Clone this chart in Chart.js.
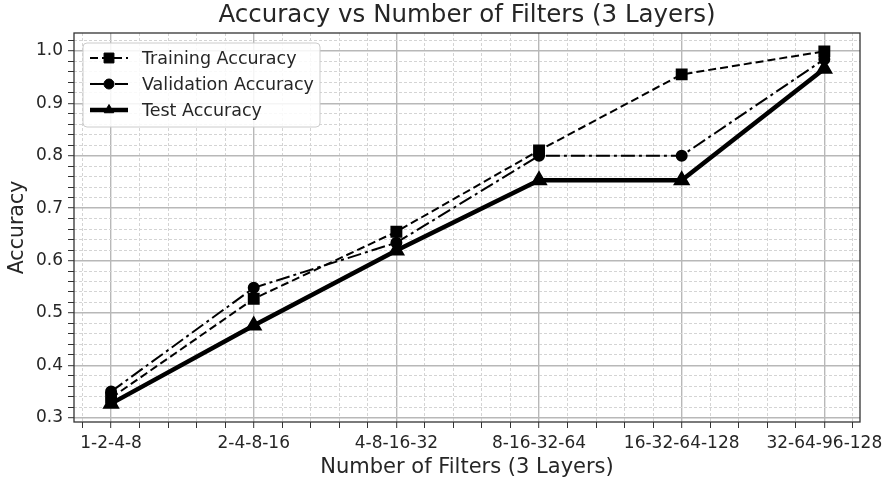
<!DOCTYPE html>
<html>
<head>
<meta charset="utf-8">
<script src="https://cdn.jsdelivr.net/npm/chart.js@4.4.1/dist/chart.umd.min.js"></script>
<style>
  html, body { margin: 0; padding: 0; background: #fff; }
  #wrap { width: 889px; height: 483px; position: relative; }
</style>
</head>
<body>
<div id="wrap"><canvas id="accChart"></canvas></div>
<script>
// chart data
const categories = ['1-2-4-8', '2-4-8-16', '4-8-16-32', '8-16-32-64', '16-32-64-128', '32-64-96-128'];
const trainingAcc = [0.338, 0.527, 0.655, 0.810, 0.955, 0.999];
const validationAcc = [0.350, 0.548, 0.634, 0.800, 0.800, 0.984];
const testAcc = [0.327, 0.476, 0.619, 0.753, 0.753, 0.966];
const yTicks = [0.3, 0.4, 0.5, 0.6, 0.7, 0.8, 0.9, 1.0];

const titleText = 'Accuracy vs Number of Filters (3 Layers)';
const xTitle = 'Number of Filters (3 Layers)';
const yTitle = 'Accuracy';

const FONT = "'DejaVu Sans', sans-serif";
const TEXT = '#262626';

function points(values) {
    return values.map((v, i) => ({ x: i, y: v }));
}

function near(v, step) {
    return Math.abs(v / step - Math.round(v / step)) < 1e-6;
}

// plot frame + title centred on the axes
const framePlugin = {
    id: 'frame',
    afterDraw(chart) {
        const a = chart.chartArea;
        const ctx = chart.ctx;
        ctx.save();
        ctx.strokeStyle = '#333';
        ctx.lineWidth = 1.3;
        ctx.strokeRect(a.left, a.top, a.right - a.left, a.bottom - a.top);
        ctx.fillStyle = TEXT;
        ctx.font = '24.5px ' + FONT;
        ctx.textAlign = 'center';
        ctx.textBaseline = 'middle';
        ctx.fillText(titleText, (a.left + a.right) / 2, 16);
        ctx.restore();
    }
};

// matplotlib-style legend inside the axes, upper left
const legendPlugin = {
    id: 'innerLegend',
    afterDraw(chart) {
        const a = chart.chartArea;
        const ctx = chart.ctx;
        const x0 = a.left + 9, y0 = a.top + 10, w = 237, h = 84;
        ctx.save();
        ctx.beginPath();
        ctx.roundRect(x0, y0, w, h, 4);
        ctx.fillStyle = 'rgba(255,255,255,0.85)';
        ctx.fill();
        ctx.strokeStyle = '#cccccc';
        ctx.lineWidth = 1;
        ctx.stroke();
        chart.data.datasets.forEach((ds, i) => {
            const cy = a.top + 25 + i * 26;
            ctx.save();
            ctx.strokeStyle = ds.borderColor;
            ctx.lineWidth = ds.borderWidth;
            ctx.setLineDash(ds.borderDash || []);
            ctx.beginPath();
            ctx.moveTo(a.left + 16, cy);
            ctx.lineTo(a.left + 54, cy);
            ctx.stroke();
            ctx.restore();
            ctx.fillStyle = '#000';
            ctx.strokeStyle = '#000';
            ctx.lineWidth = 1;
            Chart.helpers.drawPoint(ctx, {
                pointStyle: ds.pointStyle,
                radius: ds.pointRadius,
                borderWidth: 1,
                rotation: 0
            }, a.left + 35, cy);
            ctx.fillStyle = TEXT;
            ctx.font = '17.5px ' + FONT;
            ctx.textAlign = 'left';
            ctx.textBaseline = 'middle';
            ctx.fillText(ds.label, a.left + 68, cy + 1);
        });
        ctx.restore();
    }
};

function gridColor(step, major) {
    return ctx => {
        const v = ctx.tick ? ctx.tick.value : 0;
        if (near(v, major)) return '#b8b8b8';
        if (near(v, step)) return '#d4d4d4';
        return 'rgba(0,0,0,0)';
    };
}

const ctx = document.getElementById('accChart').getContext('2d');
const accChart = new Chart(ctx, {
    type: 'line',
    data: {
        datasets: [
            {
                label: 'Training Accuracy',
                data: points(trainingAcc),
                borderColor: '#000',
                backgroundColor: '#000',
                borderWidth: 2,
                borderDash: [8, 4],
                pointStyle: 'rect',
                pointRadius: 7,
                pointBackgroundColor: '#000',
                pointBorderColor: '#000'
            },
            {
                label: 'Validation Accuracy',
                data: points(validationAcc),
                borderColor: '#000',
                backgroundColor: '#000',
                borderWidth: 2,
                borderDash: [14, 4, 3, 4],
                pointStyle: 'circle',
                pointRadius: 5,
                pointBackgroundColor: '#000',
                pointBorderColor: '#000'
            },
            {
                label: 'Test Accuracy',
                data: points(testAcc),
                borderColor: '#000',
                backgroundColor: '#000',
                borderWidth: 4.5,
                pointStyle: 'triangle',
                pointRadius: 5.5,
                pointBackgroundColor: '#000',
                pointBorderColor: '#000'
            }
        ]
    },
    options: {
        responsive: true,
        maintainAspectRatio: false,
        animation: false,
        events: [],
        layout: { padding: { top: 33, right: 29, left: 0, bottom: 0 } },
        plugins: {
            legend: { display: false },
            title: { display: false },
            tooltip: { enabled: false }
        },
        scales: {
            x: {
                type: 'linear',
                min: -0.26,
                max: 5.25,
                afterFit: s => { s.height = 61; },
                ticks: {
                    stepSize: 0.2,
                    autoSkip: false,
                    maxRotation: 0,
                    includeBounds: false,
                    padding: 5,
                    color: TEXT,
                    font: { family: FONT, size: 17 },
                    callback: v => near(v, 1) ? categories[Math.round(v)] : ''
                },
                grid: {
                    color: gridColor(0.2, 1),
                    lineWidth: c => (c.tick && near(c.tick.value, 1)) ? 1.4 : 1,
                    tickColor: '#333',
                    tickLength: 6,
                    tickWidth: 1
                },
                border: {
                    display: false,
                    dash: c => (c.tick && !near(c.tick.value, 1)) ? [3, 2] : []
                },
                title: {
                    display: true,
                    text: xTitle,
                    color: TEXT,
                    font: { family: FONT, size: 21 },
                    padding: { top: 0, bottom: 3 }
                }
            },
            y: {
                min: 0.292,
                max: 1.034,
                afterFit: s => { s.width = 74; },
                ticks: {
                    stepSize: 0.02,
                    autoSkip: false,
                    includeBounds: false,
                    padding: 5,
                    color: TEXT,
                    font: { family: FONT, size: 17 },
                    callback: v => yTicks.some(t => Math.abs(t - v) < 1e-6) ? v.toFixed(1) : ''
                },
                grid: {
                    color: gridColor(0.02, 0.1),
                    lineWidth: c => (c.tick && near(c.tick.value, 0.1)) ? 1.4 : 1,
                    tickColor: '#333',
                    tickLength: 6,
                    tickWidth: 1
                },
                border: {
                    display: false,
                    dash: c => (c.tick && !near(c.tick.value, 0.1)) ? [3, 2] : []
                },
                title: {
                    display: true,
                    text: yTitle,
                    color: TEXT,
                    font: { family: FONT, size: 20.5 },
                    padding: { top: 5, bottom: 0 }
                }
            }
        }
    },
    plugins: [framePlugin, legendPlugin]
});
</script>
</body>
</html>
